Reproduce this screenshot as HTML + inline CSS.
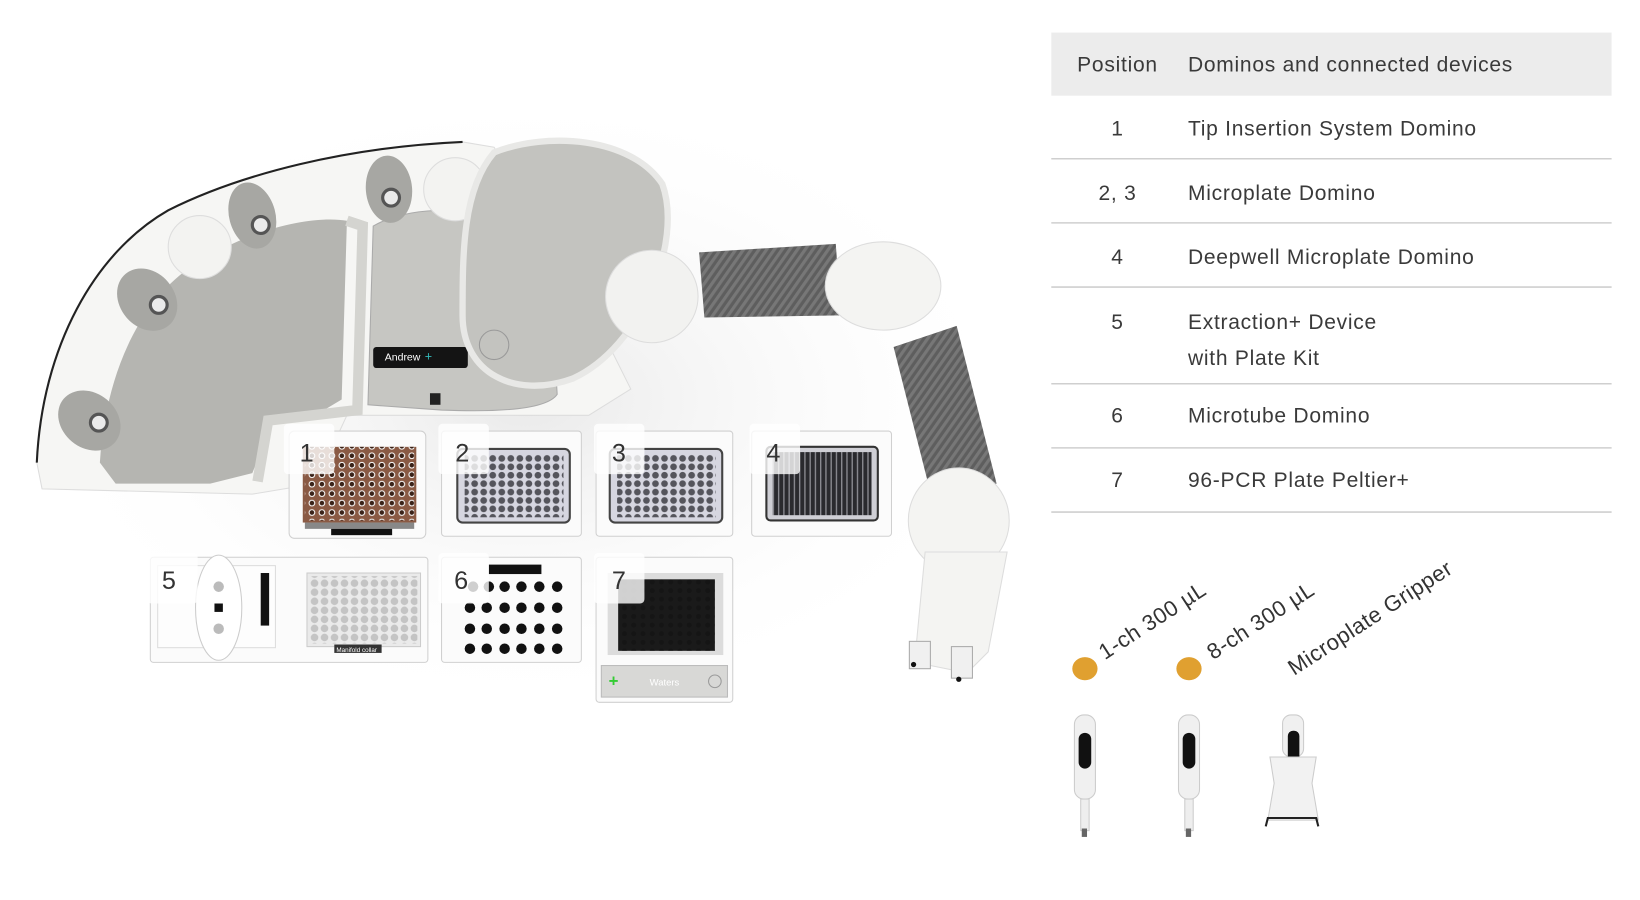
<!DOCTYPE html>
<html><head><meta charset="utf-8"><style>
html,body{margin:0;padding:0;background:#fff;width:1640px;height:900px;overflow:hidden}
svg{display:block}
text{font-family:"Liberation Sans","DejaVu Sans",sans-serif}
</style></head><body>
<svg width="1640" height="900" viewBox="0 0 1560 856" preserveAspectRatio="none" xmlns="http://www.w3.org/2000/svg">
<defs>
<radialGradient id="shadow" cx="0.5" cy="0.5" r="0.5"><stop offset="0" stop-color="#e9e9e9"/><stop offset="1" stop-color="#fff" stop-opacity="0"/></radialGradient>
<pattern id="carbon" width="6" height="6" patternUnits="userSpaceOnUse" patternTransform="rotate(35)"><rect width="6" height="6" fill="#5e5e5e"/><rect width="3" height="6" fill="#777"/></pattern>
<pattern id="wellsB" width="9.5" height="9" patternUnits="userSpaceOnUse" x="292" y="420"><circle cx="4.7" cy="4.5" r="3.2" fill="#fff"/><circle cx="4.7" cy="4.5" r="2.2" fill="#3a2218"/></pattern>
<pattern id="wellsG" width="8.6" height="8" patternUnits="userSpaceOnUse"><circle cx="4.3" cy="4" r="3.2" fill="#55555c"/></pattern>
<pattern id="wellsL" width="9.5" height="8.6" patternUnits="userSpaceOnUse"><circle cx="4.7" cy="4.3" r="3.6" fill="#c4c4c4"/></pattern>
<pattern id="wellsK" width="8.8" height="8.2" patternUnits="userSpaceOnUse"><circle cx="4.4" cy="4.1" r="2.4" fill="#111"/></pattern>
<pattern id="stripes" width="5" height="10" patternUnits="userSpaceOnUse"><rect width="5" height="10" fill="#2a2a2e"/><rect width="1.3" height="10" fill="#8a8a90"/></pattern>
</defs>
<ellipse cx="500" cy="380" rx="480" ry="300" fill="url(#shadow)"/>
<path d="M35,440 C40,330 90,240 160,200 C230,165 330,140 440,135 L470,140 L560,290 L600,370 L560,395 L330,395 L300,460 L240,470 L40,465 Z" fill="#f6f6f4" stroke="#ddd"/>
<path d="M35,440 C40,330 90,240 160,200 C230,165 330,140 440,135" fill="none" stroke="#222" stroke-width="2"/>
<path d="M95,440 C100,360 130,290 180,255 C240,215 300,205 330,210 L325,380 L300,395 L260,400 L240,450 L200,460 L110,460 Z" fill="#b5b5b1"/>
<path d="M330,210 L345,215 L340,390 L255,400 L245,458" fill="none" stroke="#d4d4d0" stroke-width="10"/>
<path d="M355,215 C390,195 450,195 520,215 L530,375 C520,390 470,392 420,390 L350,385 Z" fill="#c6c6c2" stroke="#aaa"/>
<rect x="355" y="330" width="90" height="20" rx="3" fill="#141414"/>
<text x="366" y="343" font-size="10" fill="#fff">Andrew</text>
<text x="404" y="343" font-size="12" fill="#3bb">+</text>
<rect x="409" y="374" width="10" height="11" fill="#222"/>
<g fill="#a7a7a3"><ellipse cx="85" cy="400" rx="26" ry="32" transform="rotate(-50 85 400)"/><ellipse cx="140" cy="285" rx="26" ry="32" transform="rotate(-40 140 285)"/><ellipse cx="240" cy="205" rx="22" ry="32" transform="rotate(-15 240 205)"/><ellipse cx="370" cy="180" rx="22" ry="32" transform="rotate(-5 370 180)"/></g>
<g fill="#eaeaea" stroke="#555" stroke-width="3"><circle cx="94" cy="402" r="8"/><circle cx="151" cy="290" r="8"/><circle cx="248" cy="214" r="8"/><circle cx="372" cy="188" r="8"/></g>
<circle cx="190" cy="235" r="30" fill="#f3f3f1" stroke="#ddd"/>
<circle cx="433" cy="180" r="30" fill="#f3f3f1" stroke="#ddd"/>
<path d="M470,145 C520,125 600,130 630,175 C650,230 610,330 545,360 C490,380 440,355 440,300 C440,240 440,180 470,145 Z" fill="#c3c3bf" stroke="#e8e8e6" stroke-width="6"/>
<circle cx="470" cy="328" r="14" fill="none" stroke="#999"/>
<circle cx="620" cy="282" r="44" fill="#f2f2f0" stroke="#ddd"/>
<polygon points="665,240 795,232 800,300 670,302" fill="url(#carbon)"/>
<ellipse cx="840" cy="272" rx="55" ry="42" fill="#f4f4f2" stroke="#ddd"/>
<polygon points="850,330 910,310 948,460 888,480" fill="url(#carbon)"/>
<ellipse cx="912" cy="495" rx="48" ry="50" fill="#f4f4f2" stroke="#ddd"/>
<path d="M880,525 L958,525 L940,620 L920,640 L870,630 Z" fill="#f4f4f2" stroke="#ddd"/>
<rect x="865" y="610" width="20" height="26" fill="#f0f0f0" stroke="#aaa"/><rect x="905" y="615" width="20" height="30" fill="#f0f0f0" stroke="#aaa"/>
<circle cx="869" cy="632" r="2.5" fill="#111"/><circle cx="912" cy="646" r="2.5" fill="#111"/>
<g stroke="#d0d0d0" fill="#fbfbfb">
<rect x="275" y="410" width="130" height="102" rx="5"/>
<rect x="420" y="410" width="133" height="100" rx="3"/>
<rect x="567" y="410" width="130" height="100" rx="3"/>
<rect x="715" y="410" width="133" height="100" rx="3"/>
<rect x="143" y="530" width="264" height="100" rx="3"/>
<rect x="420" y="530" width="133" height="100" rx="3"/>
<rect x="567" y="530" width="130" height="138" rx="3"/>
</g>
<rect x="288" y="425" width="108" height="72" fill="#8a5a44"/><rect x="290" y="425" width="104" height="70" fill="url(#wellsB)"/>
<rect x="290" y="497" width="104" height="6" fill="#888"/><rect x="315" y="503" width="58" height="6" fill="#111"/>
<g><rect x="435" y="427" width="107" height="70" rx="5" fill="#d6d6e0" stroke="#444" stroke-width="2"/><rect x="442" y="432" width="94" height="60" fill="url(#wellsG)"/></g>
<g><rect x="580" y="427" width="107" height="70" rx="5" fill="#d6d6e0" stroke="#444" stroke-width="2"/><rect x="587" y="432" width="94" height="60" fill="url(#wellsG)"/></g>
<rect x="729" y="425" width="106" height="70" rx="4" fill="#cfcfd5" stroke="#333" stroke-width="2"/><rect x="735" y="430" width="94" height="60" fill="url(#stripes)"/>
<rect x="150" y="538" width="112" height="78" fill="#fdfdfd" stroke="#ddd"/>
<ellipse cx="208" cy="578" rx="22" ry="50" fill="#fff" stroke="#ccc"/>
<circle cx="208" cy="558" r="5" fill="#bbb"/><circle cx="208" cy="598" r="5" fill="#bbb"/><rect x="204" y="574" width="8" height="8" fill="#111"/>
<rect x="248" y="545" width="8" height="50" fill="#111"/>
<rect x="292" y="545" width="108" height="70" fill="#eaeaea" stroke="#ccc"/><rect x="295" y="548" width="102" height="64" fill="url(#wellsL)"/>
<rect x="318" y="613" width="45" height="8" fill="#333"/><text x="320" y="620" font-size="6" fill="#fff">Manifold collar</text>
<rect x="465" y="537" width="50" height="9" fill="#111"/>
<g fill="#111"><circle cx="450" cy="558" r="5"/><circle cx="465" cy="558" r="5"/><circle cx="480" cy="558" r="5"/><circle cx="496" cy="558" r="5"/><circle cx="513" cy="558" r="5"/><circle cx="530" cy="558" r="5"/>
<circle cx="447" cy="578" r="5"/><circle cx="463" cy="578" r="5"/><circle cx="480" cy="578" r="5"/><circle cx="496" cy="578" r="5"/><circle cx="513" cy="578" r="5"/><circle cx="530" cy="578" r="5"/>
<circle cx="447" cy="598" r="5"/><circle cx="463" cy="598" r="5"/><circle cx="480" cy="598" r="5"/><circle cx="496" cy="598" r="5"/><circle cx="513" cy="598" r="5"/><circle cx="530" cy="598" r="5"/>
<circle cx="447" cy="617" r="5"/><circle cx="463" cy="617" r="5"/><circle cx="480" cy="617" r="5"/><circle cx="496" cy="617" r="5"/><circle cx="513" cy="617" r="5"/><circle cx="530" cy="617" r="5"/></g>
<rect x="578" y="545" width="110" height="78" fill="#dcdcdc"/><rect x="588" y="551" width="92" height="68" fill="#1a1a1a"/><rect x="588" y="551" width="92" height="68" fill="url(#wellsK)" opacity="0.6"/>
<rect x="572" y="633" width="120" height="30" fill="#d8d8d6" stroke="#bbb"/>
<text x="579" y="653" font-size="16" fill="#3c3" font-weight="bold">+</text>
<text x="618" y="652" font-size="9" fill="#fff">Waters</text><circle cx="680" cy="648" r="6" fill="none" stroke="#999"/>
<g fill="#fff" fill-opacity="0.8"><rect x="270" y="403" width="48" height="48" rx="4"/><rect x="417" y="403" width="48" height="48" rx="4"/><rect x="565" y="403" width="48" height="48" rx="4"/><rect x="713" y="403" width="48" height="48" rx="4"/><rect x="140" y="526" width="48" height="48" rx="4"/><rect x="417" y="526" width="48" height="48" rx="4"/><rect x="565" y="526" width="48" height="48" rx="4"/></g>
<g font-size="24" fill="#333"><text x="285" y="439">1</text><text x="433" y="439">2</text><text x="582" y="439">3</text><text x="729" y="439">4</text><text x="154" y="560">5</text><text x="432" y="560">6</text><text x="582" y="560">7</text></g>
<rect x="1000" y="31" width="533" height="60" fill="#ececec"/>
<g font-size="20" fill="#3a3a3a" letter-spacing="0.7">
<text x="1063" y="68" text-anchor="middle">Position</text><text x="1130" y="68">Dominos and connected devices</text>
<text x="1063" y="129" text-anchor="middle">1</text><text x="1130" y="129">Tip Insertion System Domino</text>
<text x="1063" y="190" text-anchor="middle">2, 3</text><text x="1130" y="190">Microplate Domino</text>
<text x="1063" y="251" text-anchor="middle">4</text><text x="1130" y="251">Deepwell Microplate Domino</text>
<text x="1063" y="313" text-anchor="middle">5</text><text x="1130" y="313">Extraction+ Device</text><text x="1130" y="347">with Plate Kit</text>
<text x="1063" y="402" text-anchor="middle">6</text><text x="1130" y="402">Microtube Domino</text>
<text x="1063" y="463" text-anchor="middle">7</text><text x="1130" y="463">96-PCR Plate Peltier+</text>
</g>
<g stroke="#cfcfcf" stroke-width="1.5"><line x1="1000" y1="151" x2="1533" y2="151"/><line x1="1000" y1="212" x2="1533" y2="212"/><line x1="1000" y1="273" x2="1533" y2="273"/><line x1="1000" y1="365" x2="1533" y2="365"/><line x1="1000" y1="426" x2="1533" y2="426"/><line x1="1000" y1="487" x2="1533" y2="487"/></g>
<ellipse cx="1032" cy="636" rx="12" ry="11" fill="#e0a030"/>
<ellipse cx="1131" cy="636" rx="12" ry="11" fill="#e0a030"/>
<g font-size="21" fill="#333" letter-spacing="0.5">
<text transform="translate(1051,628) rotate(-33)">1-ch 300 µL</text>
<text transform="translate(1154,628) rotate(-33)">8-ch 300 µL</text>
<text transform="translate(1231,643) rotate(-33)">Microplate Gripper</text>
</g>
<g transform="translate(-4,0)">
<rect x="1026" y="680" width="20" height="80" rx="9" fill="#f0f0f0" stroke="#ccc"/><rect x="1030" y="697" width="12" height="34" rx="6" fill="#111"/><rect x="1032" y="760" width="8" height="30" fill="#eee" stroke="#ccc"/><rect x="1033" y="788" width="5" height="8" fill="#666"/>
<rect x="1125" y="680" width="20" height="80" rx="9" fill="#f0f0f0" stroke="#ccc"/><rect x="1129" y="697" width="12" height="34" rx="6" fill="#111"/><rect x="1131" y="760" width="8" height="30" fill="#eee" stroke="#ccc"/><rect x="1132" y="788" width="5" height="8" fill="#666"/>
<rect x="1224" y="680" width="20" height="40" rx="8" fill="#f0f0f0" stroke="#ccc"/><rect x="1229" y="695" width="11" height="30" rx="5" fill="#111"/>
<path d="M1212,720 L1256,720 L1252,745 L1258,780 L1210,780 L1216,745 Z" fill="#f2f2f2" stroke="#ccc"/>
<path d="M1208,786 L1210,778 L1256,778 L1258,786" fill="none" stroke="#222" stroke-width="2"/>
</g>
</svg>
</body></html>
